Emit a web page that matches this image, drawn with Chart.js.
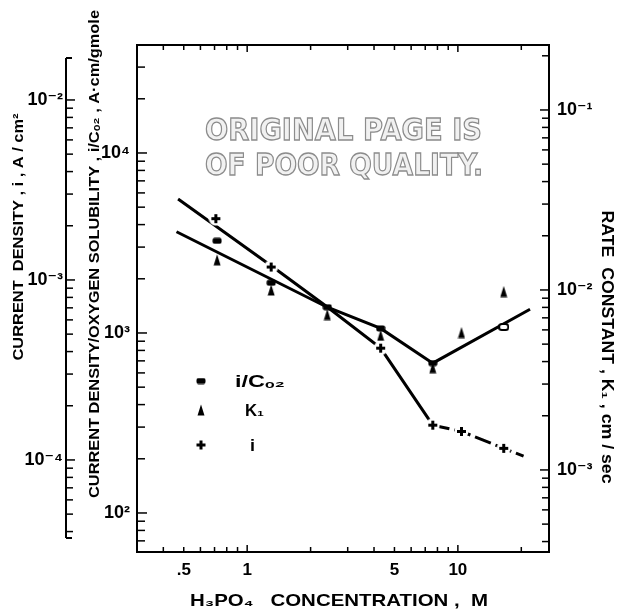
<!DOCTYPE html>
<html>
<head>
<meta charset="utf-8">
<script src="https://cdn.jsdelivr.net/npm/chart.js@4.4.1/dist/chart.umd.min.js"></script>
<style>
  html, body { margin: 0; padding: 0; background: #fff; }
  #wrap { width: 618px; height: 610px; }
</style>
</head>
<body>
<div id="wrap"><canvas id="chart" width="618" height="610"></canvas></div>
<script>
const concCo2 = [0.72, 1.3, 2.4, 4.3, 7.6, 16.5];
const iOverCo2 = [3250, 1900, 1390, 1060, 680, 1080];
const concK1 = [0.72, 1.3, 2.4, 4.3, 7.6, 10.4, 16.5];
const k1Values = [0.0147, 0.0100, 0.0073, 0.0056, 0.0037, 0.0058, 0.0098];
const concI = [0.71, 1.3, 4.3, 7.6, 10.4, 16.5];
const iValues = [0.00219, 0.00118, 0.000418, 0.000156, 0.000144, 0.000116];

// hand drawn curves through the points
const fitCo2Conc = [0.462, 2.4, 4.3, 7.6, 22];
const fitCo2Vals = [3650, 1390, 1060, 680, 1355];
const fitIConc = [0.47, 1.3, 2.4, 4.3, 7.6, 10.4, 16.5, 20.5];
const fitIVals = [0.00282, 0.0012, 0.000708, 0.000418, 0.000156, 0.000144, 0.000116, 0.000105];

// tick labels
const xLabelVals = [0.5, 1, 5, 10];
const xLabelText = ['.5', '1', '5', '10'];
const co2LabelVals = [100, 1000, 10000];
const co2LabelText = ['10²', '10³', '10⁴'];
const iLabelVals = [0.0001, 0.001, 0.01];
const iLabelText = ['10⁻⁴', '10⁻³', '10⁻²'];
const kLabelVals = [0.001, 0.01, 0.1];
const kLabelText = ['10⁻³', '10⁻²', '10⁻¹'];

const LABEL_FONT = { family: '"Liberation Sans", "DejaVu Sans", sans-serif', size: 18, weight: 'bold' };
const XLABEL_FONT = { family: '"Liberation Sans", "DejaVu Sans", sans-serif', size: 17, weight: 'bold' };
const TITLE_FAMILY = '"Liberation Sans", "DejaVu Sans", sans-serif';

const toPoints = (xs, ys) => xs.map((x, i) => ({ x, y: ys[i] }));

const logTicks = (lo, hi) => {
  const out = [];
  for (let e = Math.floor(Math.log10(lo)); e <= Math.ceil(Math.log10(hi)); e++) {
    for (let m = 1; m < 10; m++) {
      const v = Number((m * Math.pow(10, e)).toPrecision(6));
      if (v >= lo && v <= hi) out.push(v);
    }
  }
  return out;
};

const labelFor = (vals, texts) => (v) => {
  const i = vals.findIndex(t => Math.abs(t - v) / t < 1e-6);
  return i < 0 ? '' : texts[i];
};

const isDecade = (v) => Math.abs(Math.log10(v) - Math.round(Math.log10(v))) < 1e-6;

// marker images
const makeMark = (w, h, draw) => {
  const c = document.createElement('canvas');
  c.width = w; c.height = h;
  draw(c.getContext('2d'));
  return c;
};
const squareMark = makeMark(10, 7, g => {
  g.fillStyle = '#000';
  g.beginPath(); g.roundRect(0.5, 0.5, 9, 6, 2); g.fill();
});
const openSquareMark = makeMark(11, 8, g => {
  g.fillStyle = '#fff'; g.strokeStyle = '#000'; g.lineWidth = 2;
  g.beginPath(); g.roundRect(1, 1, 9, 6, 2.5); g.fill(); g.stroke();
});
const triMark = makeMark(8, 12, g => {
  g.fillStyle = '#000';
  g.beginPath(); g.moveTo(4, 0.5); g.lineTo(7.5, 11.5); g.lineTo(0.5, 11.5); g.closePath(); g.fill();
});
const plusMark = makeMark(15, 15, g => {
  g.fillStyle = '#fff';
  g.beginPath(); g.arc(7.5, 7.5, 7, 0, Math.PI * 2); g.fill();
  g.fillStyle = '#000';
  g.fillRect(3, 6, 9, 3);
  g.fillRect(6, 3, 3, 9);
});

const fixedSize = (key, size) => (scale) => { scale[key] = size; };

const logAxis = (extra) => Object.assign({
  type: 'logarithmic',
  grid: { display: false, drawTicks: false },
  border: { display: true, color: '#000', width: 2 },
}, extra);

// inward tick marks, top border, detached outer axis
const tickMarks = {
  id: 'tickMarks',
  afterDraw(chart) {
    const { ctx, chartArea: a, scales } = chart;
    const seg = (x1, y1, x2, y2) => { ctx.beginPath(); ctx.moveTo(x1, y1); ctx.lineTo(x2, y2); ctx.stroke(); };
    ctx.save();
    ctx.strokeStyle = '#000';
    ctx.lineWidth = 2;
    seg(a.left - 1, a.top, a.right + 1, a.top);

    ctx.lineWidth = 1.5;
    scales.x.ticks.forEach(t => {
      const px = scales.x.getPixelForValue(t.value);
      const len = isDecade(t.value) ? 7 : 5;
      seg(px, a.bottom, px, a.bottom - len);
      seg(px, a.top, px, a.top + len);
    });
    scales.y.ticks.forEach(t => {
      const py = scales.y.getPixelForValue(t.value);
      seg(a.left, py, a.left + (isDecade(t.value) ? 10 : 8), py);
    });
    scales.yK.ticks.forEach(t => {
      const py = scales.yK.getPixelForValue(t.value);
      seg(a.right, py, a.right - (isDecade(t.value) ? 9 : 7), py);
    });
    const ax = scales.yI.right;
    const top = a.top + 13, bottom = a.bottom - 14;
    ctx.lineWidth = 2;
    seg(ax, top, ax, bottom);
    seg(ax, top, ax + 6, top);
    seg(ax, bottom, ax + 6, bottom);
    ctx.lineWidth = 1.5;
    scales.yI.ticks.forEach(t => {
      const py = scales.yI.getPixelForValue(t.value);
      if (py < top || py > bottom) return;
      seg(ax, py, ax + (isDecade(t.value) ? 9 : 7), py);
    });
    ctx.restore();
  }
};

// axis titles, stretched to the lengths in the figure
const axisTitles = [
  { text: 'CURRENT  DENSITY , i , A / cm²', x: 19, y: 237, len: 247, rot: -90, size: 15 },
  { text: 'CURRENT DENSITY/OXYGEN SOLUBILITY , i/Cₒ₂ , A·cm/gmole', x: 95, y: 254, len: 488, rot: -90, size: 15 },
  { text: 'RATE  CONSTANT , K₁ , cm / sec', x: 606, y: 347, len: 273, rot: 90, size: 16 },
  { text: 'H₃PO₄   CONCENTRATION ,  M', x: 339, y: 601, len: 298, rot: 0, size: 17 },
];
const drawStretched = (ctx, text, x, y, len, rot) => {
  const w = ctx.measureText(text).width;
  ctx.save();
  ctx.translate(x, y);
  ctx.rotate(rot * Math.PI / 180);
  ctx.scale(len / w, 1);
  ctx.fillText(text, 0, 0);
  ctx.restore();
};
const titlesPlugin = {
  id: 'titles',
  afterDraw(chart) {
    const ctx = chart.ctx;
    axisTitles.forEach(t => {
      ctx.save();
      ctx.font = `bold ${t.size}px ${TITLE_FAMILY}`;
      ctx.fillStyle = '#000';
      ctx.textAlign = 'center';
      ctx.textBaseline = 'middle';
      drawStretched(ctx, t.text, t.x, t.y, t.len, t.rot);
      ctx.restore();
    });
  }
};

// legend inside the plot
const legendItems = [
  { mark: squareMark, text: 'i/Cₒ₂', x: 201, y: 381, tx: 235, len: 50 },
  { mark: triMark, text: 'K₁', x: 201, y: 410, tx: 245, len: 19 },
  { mark: plusMark, text: 'i', x: 201, y: 445, tx: 250, len: 5 },
];
const legendPlugin = {
  id: 'innerLegend',
  afterDraw(chart) {
    const ctx = chart.ctx;
    ctx.save();
    ctx.font = `bold 17px ${TITLE_FAMILY}`;
    ctx.fillStyle = '#000';
    ctx.textAlign = 'left';
    ctx.textBaseline = 'middle';
    legendItems.forEach(it => {
      ctx.drawImage(it.mark, it.x - it.mark.width / 2, it.y - it.mark.height / 2);
      drawStretched(ctx, it.text, it.tx, it.y + 1, it.len, 0);
    });
    ctx.restore();
  }
};

// the "poor quality" stamp on the scanned page
const stampLines = [
  { text: 'ORIGINAL PAGE IS', x: 205, y: 140, len: 277 },
  { text: 'OF POOR QUALITY.', x: 205, y: 175, len: 278 },
];
const stampPlugin = {
  id: 'stamp',
  beforeDatasetsDraw(chart) {
    const ctx = chart.ctx;
    ctx.save();
    ctx.font = 'bold 30px "DejaVu Sans", sans-serif';
    ctx.textAlign = 'left';
    ctx.textBaseline = 'alphabetic';
    ctx.strokeStyle = '#8c8c8c';
    ctx.fillStyle = '#f1f1f1';
    ctx.lineWidth = 1.3;
    stampLines.forEach(l => {
      const w = ctx.measureText(l.text).width;
      ctx.save();
      ctx.translate(l.x, l.y);
      ctx.scale(l.len / w, 1);
      ctx.fillText(l.text, 0, 0);
      ctx.strokeText(l.text, 0, 0);
      ctx.restore();
    });
    ctx.restore();
  }
};

const ctx = document.getElementById('chart').getContext('2d');

const chart = new Chart(ctx, {
  type: 'scatter',
  data: {
    datasets: [
      {
        label: 'i/Co2 curve',
        data: toPoints(fitCo2Conc, fitCo2Vals),
        xAxisID: 'x', yAxisID: 'y',
        showLine: true, borderColor: '#000', borderWidth: 3,
        pointRadius: 0, tension: 0, order: 10
      },
      {
        label: 'i curve',
        data: toPoints(fitIConc, fitIVals),
        xAxisID: 'x', yAxisID: 'yI',
        showLine: true, borderColor: '#000', borderWidth: 3,
        pointRadius: 0, tension: 0, order: 11,
        segment: { borderDash: c => (c.p0DataIndex >= 4 ? [17, 5] : undefined) }
      },
      {
        label: 'i',
        data: toPoints(concI, iValues),
        xAxisID: 'x', yAxisID: 'yI',
        pointStyle: plusMark, pointRadius: 5, order: 3
      },
      {
        label: 'K1',
        data: toPoints(concK1, k1Values),
        xAxisID: 'x', yAxisID: 'yK',
        pointStyle: triMark, pointRadius: 5, order: 2
      },
      {
        label: 'i/Co2',
        data: toPoints(concCo2, iOverCo2),
        xAxisID: 'x', yAxisID: 'y',
        pointStyle: concCo2.map((c, i) => (i === concCo2.length - 1 ? openSquareMark : squareMark)),
        pointRadius: 5, order: 1
      }
    ]
  },
  options: {
    responsive: false,
    animation: false,
    events: [],
    layout: { padding: { top: 45, left: 0, right: 0, bottom: 0 } },
    plugins: { legend: { display: false }, tooltip: { enabled: false } },
    scales: {
      x: logAxis({
        position: 'bottom',
        min: 0.318, max: 27.07,
        afterFit: fixedSize('height', 58),
        afterBuildTicks: s => { s.ticks = logTicks(0.4, 20).map(value => ({ value })); },
        ticks: { callback: labelFor(xLabelVals, xLabelText), autoSkip: false, maxRotation: 0, padding: 8, color: '#000', font: XLABEL_FONT }
      }),
      yI: logAxis({
        position: 'left', weight: 1,
        min: 3.08e-5, max: 0.0202,
        border: { display: false },
        afterFit: fixedSize('width', 66),
        afterBuildTicks: s => { s.ticks = logTicks(3.08e-5, 0.0202).map(value => ({ value })); },
        ticks: { callback: labelFor(iLabelVals, iLabelText), autoSkip: false, padding: 3, color: '#000', font: LABEL_FONT }
      }),
      y: logAxis({
        position: 'left', weight: 0,
        min: 60.7, max: 39800,
        afterFit: fixedSize('width', 71),
        afterBuildTicks: s => { s.ticks = logTicks(60.7, 39800).map(value => ({ value })); },
        ticks: { callback: labelFor(co2LabelVals, co2LabelText), autoSkip: false, padding: 7, color: '#000', font: LABEL_FONT }
      }),
      yK: logAxis({
        position: 'right',
        min: 3.5e-4, max: 0.2296,
        afterFit: fixedSize('width', 69),
        afterBuildTicks: s => { s.ticks = logTicks(3.5e-4, 0.2296).map(value => ({ value })); },
        ticks: { callback: labelFor(kLabelVals, kLabelText), autoSkip: false, padding: 8, color: '#000', font: LABEL_FONT }
      })
    }
  },
  plugins: [stampPlugin, tickMarks, titlesPlugin, legendPlugin]
});
</script>
</body>
</html>
